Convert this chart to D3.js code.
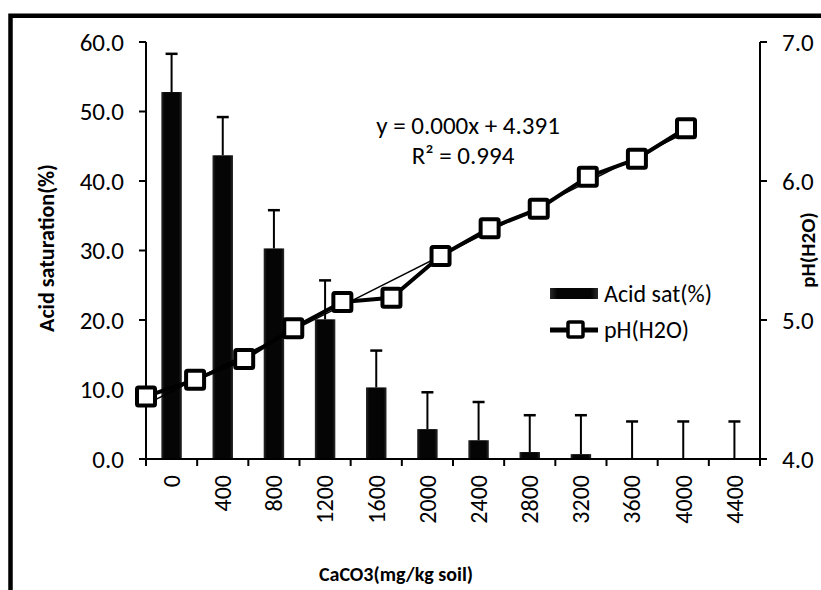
<!DOCTYPE html>
<html>
<head>
<meta charset="utf-8">
<script src="https://cdn.jsdelivr.net/npm/d3@7"></script>
<style>
  body { margin: 0; background: #fff; }
  svg { display: block; font-family: Carlito, Calibri, Lato, sans-serif; }
</style>
</head>
<body>
<div id="viz"></div>
<script>
(function() {
  var categories, caco3, acidSat, acidErr, ph, leftTicks, rightTicks, svg, x, xLin, yL, yR, defs, grad, i, boundaries, n, mx, my, sxy, sxx, slope, intercept, lineGen;

  categories = ["0", "400", "800", "1200", "1600", "2000", "2400", "2800", "3200", "3600", "4000", "4400"];
  caco3 = [0, 400, 800, 1200, 1600, 2000, 2400, 2800, 3200, 3600, 4000, 4400];
  acidSat = [52.8, 43.7, 30.3, 20.1, 10.3, 4.3, 2.7, 1.0, 0.7, 0, 0, 0];
  acidErr = [5.5, 5.5, 5.5, 5.6, 5.3, 5.3, 5.5, 5.3, 5.6, 5.4, 5.4, 5.4];
  ph = [4.45, 4.57, 4.72, 4.94, 5.13, 5.16, 5.46, 5.66, 5.80, 6.03, 6.16, 6.38];
  leftTicks = [0, 10, 20, 30, 40, 50, 60];
  rightTicks = [4, 5, 6, 7];

  svg = d3.select("#viz").append("svg:svg").attr("width", 821).attr("height", 590);

  defs = svg.append("defs");
  grad = defs.append("linearGradient").attr("id", "barGrad").attr("x1", "0").attr("x2", "1").attr("y1", "0").attr("y2", "0");
  grad.append("stop").attr("offset", "0%").attr("stop-color", "#2a2a2a");
  grad.append("stop").attr("offset", "15%").attr("stop-color", "#050505");
  grad.append("stop").attr("offset", "85%").attr("stop-color", "#050505");
  grad.append("stop").attr("offset", "100%").attr("stop-color", "#2a2a2a");

  // outer frame
  svg.append("path").attr("d", "M10.5,590 V15.8 H821").attr("fill", "none").attr("stroke", "#000").attr("stroke-width", 4.5);

  x = d3.scaleBand().domain(categories).range([146, 760]).paddingInner(0.6).paddingOuter(0.3);
  xLin = d3.scaleLinear().domain([0, 4400]).range([146, 686]);
  yL = d3.scaleLinear().domain([0, 60]).range([459, 42]);
  yR = d3.scaleLinear().domain([4, 7]).range([459, 42]);

  // bars
  svg.selectAll("rect.bar").data(categories).enter().append("rect").attr("class", "bar")
    .attr("x", function(d) { return x(d); })
    .attr("width", x.bandwidth())
    .attr("y", function(d, i) { return yL(acidSat[i]); })
    .attr("height", function(d, i) { return yL(0) - yL(acidSat[i]); })
    .attr("fill", "url(#barGrad)");

  // error bars
  svg.selectAll("line.err").data(categories).enter().append("line").attr("class", "err")
    .attr("x1", function(d) { return x(d) + x.bandwidth() / 2; })
    .attr("x2", function(d) { return x(d) + x.bandwidth() / 2; })
    .attr("y1", function(d, i) { return yL(acidSat[i]); })
    .attr("y2", function(d, i) { return yL(acidSat[i] + acidErr[i]); })
    .attr("stroke", "#000").attr("stroke-width", 2);
  svg.selectAll("line.cap").data(categories).enter().append("line").attr("class", "cap")
    .attr("x1", function(d) { return x(d) + x.bandwidth() / 2 - 6; })
    .attr("x2", function(d) { return x(d) + x.bandwidth() / 2 + 6; })
    .attr("y1", function(d, i) { return yL(acidSat[i] + acidErr[i]); })
    .attr("y2", function(d, i) { return yL(acidSat[i] + acidErr[i]); })
    .attr("stroke", "#000").attr("stroke-width", 2.5);

  // left axis
  svg.append("line").attr("x1", 146).attr("x2", 146).attr("y1", yL(0)).attr("y2", yL(60)).attr("stroke", "#000").attr("stroke-width", 2);
  svg.selectAll("line.lt").data(leftTicks).enter().append("line").attr("class", "lt")
    .attr("x1", 139).attr("x2", 146).attr("y1", yL).attr("y2", yL).attr("stroke", "#000").attr("stroke-width", 2);
  svg.selectAll("text.lt").data(leftTicks).enter().append("text").attr("class", "lt")
    .attr("x", 124).attr("y", yL).attr("dy", "0.35em").attr("text-anchor", "end")
    .style("font-size", "25px").text(function(d) { return d.toFixed(1); });

  // right axis
  svg.append("line").attr("x1", 760).attr("x2", 760).attr("y1", yR(4)).attr("y2", yR(7)).attr("stroke", "#000").attr("stroke-width", 2);
  svg.selectAll("line.rt").data(rightTicks).enter().append("line").attr("class", "rt")
    .attr("x1", 760).attr("x2", 767).attr("y1", yR).attr("y2", yR).attr("stroke", "#000").attr("stroke-width", 2);
  svg.selectAll("text.rt").data(rightTicks).enter().append("text").attr("class", "rt")
    .attr("x", 782).attr("y", yR).attr("dy", "0.35em")
    .style("font-size", "25px").text(function(d) { return d.toFixed(1); });

  // x axis
  boundaries = [];
  for (i = 0; i <= categories.length; i++) boundaries.push(146 + i * x.step());
  svg.append("line").attr("x1", 146).attr("x2", 760).attr("y1", yL(0)).attr("y2", yL(0)).attr("stroke", "#000").attr("stroke-width", 2);
  svg.selectAll("line.xt").data(boundaries).enter().append("line").attr("class", "xt")
    .attr("x1", function(d) { return d; }).attr("x2", function(d) { return d; })
    .attr("y1", yL(0)).attr("y2", yL(0) + 7).attr("stroke", "#000").attr("stroke-width", 2);
  svg.selectAll("text.xt").data(categories).enter().append("text").attr("class", "xt")
    .attr("transform", function(d) { return "translate(" + (x(d) + x.bandwidth() / 2) + ",475) rotate(-90)"; })
    .attr("dy", "0.35em").attr("text-anchor", "end")
    .style("font-size", "24px").text(function(d) { return d; });

  // trendline (least squares of pH on CaCO3)
  n = caco3.length;
  mx = d3.mean(caco3);
  my = d3.mean(ph);
  sxy = 0; sxx = 0;
  for (i = 0; i < n; i++) {
    sxy += (caco3[i] - mx) * (ph[i] - my);
    sxx += (caco3[i] - mx) * (caco3[i] - mx);
  }
  slope = sxy / sxx;
  intercept = my - slope * mx;
  svg.append("line")
    .attr("x1", xLin(0)).attr("y1", yR(intercept))
    .attr("x2", xLin(4400)).attr("y2", yR(intercept + slope * 4400))
    .attr("stroke", "#000").attr("stroke-width", 1.5);

  // pH line
  lineGen = d3.line().x(function(d, i) { return xLin(caco3[i]); }).y(function(d) { return yR(d); });
  svg.append("path").datum(ph).attr("d", lineGen).attr("fill", "none").attr("stroke", "#000").attr("stroke-width", 4).attr("stroke-linejoin", "round");
  svg.selectAll("rect.mk").data(ph).enter().append("rect").attr("class", "mk")
    .attr("x", function(d, i) { return xLin(caco3[i]) - 9; })
    .attr("y", function(d) { return yR(d) - 9; })
    .attr("width", 18).attr("height", 18).attr("rx", 1.5)
    .attr("fill", "#fff").attr("stroke", "#000").attr("stroke-width", 4);

  // equation
  svg.append("text").attr("x", 468).attr("y", 134).attr("text-anchor", "middle").style("font-size", "25px").text("y = 0.000x + 4.391");
  svg.append("text").attr("x", 463).attr("y", 164).attr("text-anchor", "middle").style("font-size", "25px").text("R² = 0.994");

  // legend
  svg.append("rect").attr("x", 550).attr("y", 288).attr("width", 48).attr("height", 11).attr("fill", "url(#barGrad)");
  svg.append("text").attr("x", 604).attr("y", 302).style("font-size", "24px").text("Acid sat(%)");
  svg.append("line").attr("x1", 550).attr("x2", 598).attr("y1", 330).attr("y2", 330).attr("stroke", "#000").attr("stroke-width", 5);
  svg.append("rect").attr("x", 568).attr("y", 322).attr("width", 15).attr("height", 15).attr("rx", 1.5)
    .attr("fill", "#fff").attr("stroke", "#000").attr("stroke-width", 3.5);
  svg.append("text").attr("x", 604).attr("y", 338).style("font-size", "24px").text("pH(H2O)");

  // axis titles
  svg.append("text").attr("transform", "translate(54,248) rotate(-90)").attr("text-anchor", "middle")
    .style("font-size", "22px").style("font-weight", "bold").text("Acid saturation(%)");
  svg.append("text").attr("transform", "translate(815,250) rotate(-90)").attr("text-anchor", "middle")
    .style("font-size", "21px").style("font-weight", "bold").text("pH(H2O)");
  svg.append("text").attr("x", 396).attr("y", 581).attr("text-anchor", "middle")
    .style("font-size", "20px").style("font-weight", "bold").text("CaCO3(mg/kg soil)");

}).call(this);
</script>
</body>
</html>
